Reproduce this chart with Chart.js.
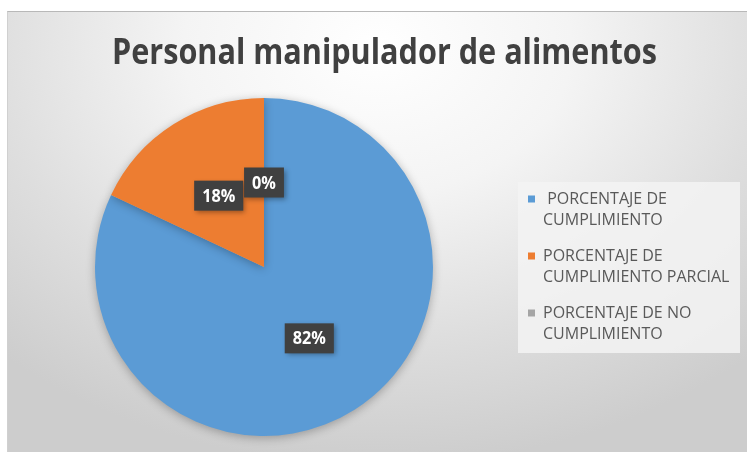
<!DOCTYPE html>
<html>
<head>
<meta charset="utf-8">
<script src="https://cdn.jsdelivr.net/npm/chart.js@4/dist/chart.umd.min.js"></script>
<style>
  html, body { margin: 0; padding: 0; background: #ffffff; }
  #bg {
    position: absolute; left: 7px; top: 11px; width: 740px; height: 441px;
    border-top: 1px solid #b8b8b8; border-left: 1px solid #d0d0d0; box-sizing: border-box;
    background: radial-gradient(ellipse 75% 95% at 50% 8%, #ffffff 0%, #f4f4f4 35%, #dedede 70%, #cdcdcd 100%);
  }
  #wrap { position: absolute; left: 0; top: 0; width: 747px; height: 452px; }
</style>
</head>
<body>
<div id="bg"></div>
<div id="wrap"><canvas id="c" width="747" height="452"></canvas></div>
<script>
const titleText = 'Personal manipulador de alimentos';
const categories = ['PORCENTAJE DE CUMPLIMIENTO', 'PORCENTAJE DE CUMPLIMIENTO PARCIAL', 'PORCENTAJE DE NO CUMPLIMIENTO'];
const legendLines = [[' PORCENTAJE DE', 'CUMPLIMIENTO'], ['PORCENTAJE DE', 'CUMPLIMIENTO PARCIAL'], ['PORCENTAJE DE NO', 'CUMPLIMIENTO']];
const values = [82, 18, 0];
const colors = ['#5b9bd5', '#ed7d31', '#a5a5a5'];

function drawScaledText(ctx, txt, x, y, targetW) {
  const w = ctx.measureText(txt).width;
  const s = targetW / w;
  ctx.save();
  ctx.translate(x, y);
  ctx.scale(s, 1);
  ctx.fillText(txt, 0, 0);
  ctx.restore();
}

const decorPlugin = {
  id: 'decor',
  beforeDatasetsDraw(chart) {
    const ctx = chart.ctx;
    ctx.save();
    ctx.shadowColor = 'rgba(0,0,0,0.28)';
    ctx.shadowBlur = 10;
    ctx.shadowOffsetX = 0;
    ctx.shadowOffsetY = 2;
  },
  afterDatasetsDraw(chart) {
    const ctx = chart.ctx;
    ctx.restore();
    const meta = chart.getDatasetMeta(0);
    meta.data.forEach((arc, i) => {
      const p = arc.getProps(['x', 'y', 'startAngle', 'endAngle', 'outerRadius'], true);
      const mid = (p.startAngle + p.endAngle) / 2;
      const r = p.outerRadius * 0.5;
      const cx = p.x + Math.cos(mid) * r;
      const cy = p.y + Math.sin(mid) * r;
      const txt = values[i] + '%';
      ctx.save();
      ctx.font = 'bold 18px "Open Sans"';
      const tw = ctx.measureText(txt).width * 0.9;
      const w = tw + 16;
      const h = 30;
      ctx.shadowColor = 'rgba(0,0,0,0.35)';
      ctx.shadowBlur = 5;
      ctx.shadowOffsetX = 2;
      ctx.shadowOffsetY = 2;
      ctx.fillStyle = '#404040';
      ctx.fillRect(cx - w / 2, cy - h / 2, w, h);
      ctx.shadowColor = 'transparent';
      ctx.fillStyle = '#ffffff';
      ctx.textAlign = 'center';
      ctx.textBaseline = 'middle';
      ctx.save();
      ctx.translate(cx, cy + 1);
      ctx.scale(0.9, 1);
      ctx.fillText(txt, 0, 0);
      ctx.restore();
      ctx.restore();
    });
  },
  afterDraw(chart) {
    const ctx = chart.ctx;
    ctx.save();
    ctx.font = 'bold 36px "Open Sans"';
    ctx.fillStyle = '#404040';
    ctx.textAlign = 'left';
    ctx.textBaseline = 'alphabetic';
    drawScaledText(ctx, titleText, 112, 64, 545);
    // legend box
    ctx.fillStyle = 'rgba(243,243,243,0.85)';
    ctx.fillRect(518, 182, 222, 171);
    ctx.font = '16px "Open Sans"';
    ctx.textAlign = 'left';
    ctx.textBaseline = 'middle';
    const y0 = 199, step = 57, lh = 21;
    legendLines.forEach((lines, i) => {
      const y = y0 + i * step;
      ctx.fillStyle = colors[i];
      ctx.fillRect(528, y - 3.5, 7, 7);
      ctx.fillStyle = '#595959';
      lines.forEach((ln, j) => ctx.fillText(ln, 543, y + j * lh));
    });
    ctx.restore();
  }
};

new Chart(document.getElementById('c'), {
  type: 'pie',
  data: {
    labels: categories,
    datasets: [{
      data: values,
      backgroundColor: colors,
      borderWidth: 0,
      hoverOffset: 0
    }]
  },
  options: {
    responsive: false,
    animation: false,
    events: [],
    layout: { padding: { left: 95, right: 314, top: 98, bottom: 16 } },
    plugins: {
      legend: { display: false },
      title: { display: false },
      tooltip: { enabled: false }
    }
  },
  plugins: [decorPlugin]
});
</script>
</body>
</html>
